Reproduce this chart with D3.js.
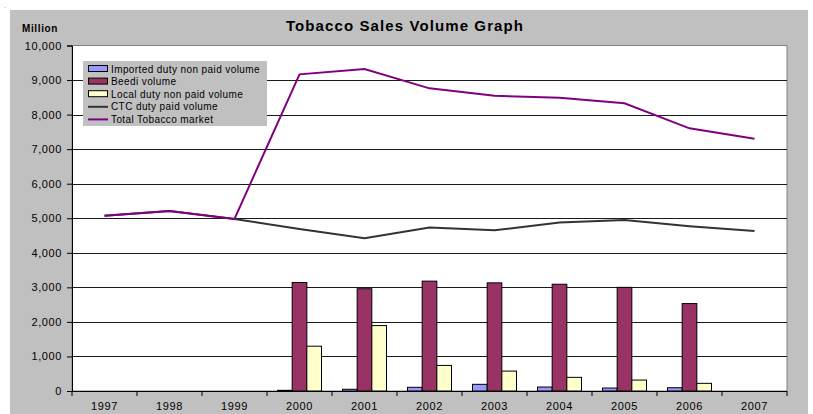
<!DOCTYPE html>
<html>
<head>
<meta charset="utf-8">
<script src="https://cdn.jsdelivr.net/npm/d3@7"></script>
<style>
  body { margin: 0; background: #fff; }
  text { font-family: "Liberation Sans", Arial, sans-serif; }
</style>
</head>
<body>
<svg id="chart" width="813" height="414"></svg>
<script>
// data
const years = ["1997","1998","1999","2000","2001","2002","2003","2004","2005","2006","2007"];
const imported = [null, null, null, 20, 50, 107, 193, 115, 86, 95, null];
const beedi = [null, null, null, 3140, 2960, 3180, 3130, 3090, 3000, 2530, null];
const localNp = [null, null, null, 1297, 1893, 740, 576, 395, 317, 222, null];
const ctc = [5075, 5212, 4980, 4690, 4420, 4730, 4650, 4880, 4950, 4770, 4630];
const total = [5075, 5212, 4980, 9165, 9320, 8760, 8545, 8490, 8328, 7603, 7304];
const yTicks = [0, 1000, 2000, 3000, 4000, 5000, 6000, 7000, 8000, 9000, 10000];

const barSeries = [
  { name: "Imported duty non paid volume", values: imported, color: "#9999ff" },
  { name: "Beedi volume", values: beedi, color: "#993366" },
  { name: "Local duty non paid volume", values: localNp, color: "#ffffcc" }
];
const lineSeries = [
  { name: "CTC duty paid volume", values: ctc, color: "#333333" },
  { name: "Total Tobacco market", values: total, color: "#800080" }
];

const svg = d3.select("#chart");
const plot = { left: 72, right: 787, top: 45.5, bottom: 391 };

// grey chart area
svg.append("rect")
  .attr("x", 10).attr("y", 10)
  .attr("width", 798).attr("height", 410)
  .attr("fill", "#c0c0c0");

svg.append("text")
  .attr("x", 4).attr("y", 8)
  .style("font-size", "8px")
  .attr("fill", "#888")
  .text(".");

svg.append("rect")
  .attr("x", plot.left).attr("y", plot.top)
  .attr("width", plot.right - plot.left).attr("height", plot.bottom - plot.top)
  .attr("fill", "#fff")
  .attr("stroke", "#808080");

const x0 = d3.scaleBand()
  .domain(years)
  .range([plot.left, plot.right])
  .paddingInner(0.323)
  .paddingOuter(0.1615);

const x1 = d3.scaleBand()
  .domain(barSeries.map(s => s.name))
  .range([0, x0.bandwidth()]);

const y = d3.scaleLinear()
  .domain([0, 10000])
  .range([plot.bottom, plot.top]);

const xc = d => x0(d) + x0.bandwidth() / 2;

// gridlines
svg.append("g")
  .selectAll("line")
  .data(yTicks.filter(t => t > 0 && t < 10000))
  .join("line")
  .attr("x1", plot.left).attr("x2", plot.right)
  .attr("y1", d => Math.round(y(d)) + 0.5).attr("y2", d => Math.round(y(d)) + 0.5)
  .attr("stroke", "#1a1a1a")
  .attr("stroke-width", 1);

// bars
barSeries.forEach(s => {
  svg.append("g")
    .selectAll("rect")
    .data(years.map((yr, i) => ({ yr, v: s.values[i] })).filter(d => d.v != null))
    .join("rect")
    .attr("x", d => x0(d.yr) + x1(s.name))
    .attr("y", d => y(d.v))
    .attr("width", x1.bandwidth())
    .attr("height", d => y(0) - y(d.v))
    .attr("fill", s.color)
    .attr("stroke", "#000")
    .attr("stroke-width", 1);
});

// lines
const line = d3.line()
  .x((d, i) => xc(years[i]))
  .y(d => y(d));

lineSeries.forEach(s => {
  svg.append("path")
    .datum(s.values)
    .attr("fill", "none")
    .attr("stroke", s.color)
    .attr("stroke-width", 2)
    .attr("d", line);
});

// axes
const yAxis = d3.axisLeft(y)
  .tickValues(yTicks)
  .tickFormat(d3.format(","))
  .tickSize(5)
  .tickPadding(5);

const gy = svg.append("g")
  .attr("transform", `translate(${plot.left},0)`)
  .call(yAxis);
gy.select(".domain").attr("stroke", "#000");
gy.selectAll("text")
  .style("font-size", "11px")
  .style("letter-spacing", "0.6px")
  .attr("fill", "#000");

const xAxisG = svg.append("g")
  .attr("transform", `translate(0,${plot.bottom})`);
xAxisG.append("line")
  .attr("x1", plot.left).attr("x2", plot.right)
  .attr("y1", 0.5).attr("y2", 0.5)
  .attr("stroke", "#000");
const step = x0.step();
xAxisG.selectAll("line.tick")
  .data(d3.range(years.length + 1))
  .join("line")
  .attr("class", "tick")
  .attr("x1", i => plot.left + i * step).attr("x2", i => plot.left + i * step)
  .attr("y1", 0).attr("y2", 5)
  .attr("stroke", "#000");
xAxisG.selectAll("text")
  .data(years)
  .join("text")
  .attr("x", d => xc(d))
  .attr("y", 19)
  .attr("text-anchor", "middle")
  .style("font-size", "11px")
  .style("letter-spacing", "0.6px")
  .text(d => d);

// title and unit
svg.append("text")
  .attr("x", 405).attr("y", 31)
  .attr("text-anchor", "middle")
  .style("font-size", "15px")
  .style("font-weight", "bold")
  .style("letter-spacing", "1.1px")
  .text("Tobacco Sales Volume Graph");

svg.append("text")
  .attr("x", 40).attr("y", 32)
  .attr("text-anchor", "middle")
  .style("font-size", "10px")
  .style("font-weight", "bold")
  .style("letter-spacing", "0.6px")
  .text("Million");

// legend
const legend = svg.append("g").attr("transform", "translate(83,61)");
legend.append("rect")
  .attr("width", 184).attr("height", 65)
  .attr("fill", "#c0c0c0");
const items = barSeries.map(s => ({ ...s, type: "bar" }))
  .concat(lineSeries.map(s => ({ ...s, type: "line" })));
items.forEach((it, i) => {
  const cy = 8 + i * 12.6;
  if (it.type === "bar") {
    legend.append("rect")
      .attr("x", 5.5).attr("y", cy - 3.5)
      .attr("width", 19).attr("height", 6)
      .attr("fill", it.color)
      .attr("stroke", "#000");
  } else {
    legend.append("line")
      .attr("x1", 5).attr("x2", 25)
      .attr("y1", cy).attr("y2", cy)
      .attr("stroke", it.color)
      .attr("stroke-width", 2);
  }
  legend.append("text")
    .attr("x", 28).attr("y", cy + 3.5)
    .style("font-size", "10px")
    .style("letter-spacing", "0.4px")
    .text(it.name);
});
</script>
</body>
</html>
